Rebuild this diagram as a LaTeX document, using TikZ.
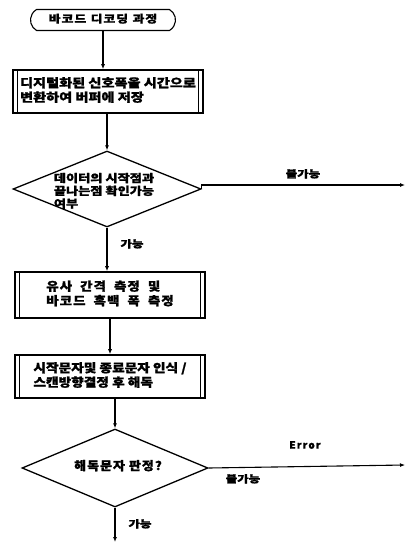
\documentclass[tikz,border=0pt]{standalone}
\usepackage{graphicx}
\usepackage{fontspec}
\setmainfont{Noto Sans CJK KR}[FakeBold=1.3]
\newfontfamily\krls{Noto Sans CJK KR}[LetterSpace=8,FakeBold=1.3]
\usetikzlibrary{shapes.misc,shapes.geometric,arrows.meta}
\newcommand{\widetext}[2][1.25]{\scalebox{#1}[1]{\begin{tabular}{@{}l@{}}#2\end{tabular}}}
\tikzset{
  conn/.style={line width=1.1pt,-{Latex[length=5pt,width=4pt]}},
  procbox/.style={draw,line width=1.6pt,rectangle,minimum width=190pt,inner sep=0pt,
    font=\fontsize{12}{14}\selectfont\bfseries,
    path picture={
      \draw[line width=1pt]([xshift=4.5pt]path picture bounding box.north west)--([xshift=4.5pt]path picture bounding box.south west);
      \draw[line width=1pt]([xshift=-4.5pt]path picture bounding box.north east)--([xshift=-4.5pt]path picture bounding box.south east);}},
  decision/.style={draw,line width=1.3pt,diamond,inner sep=0pt},
  dtext/.style={font=\fontsize{11}{11.5}\selectfont\bfseries,inner sep=0pt},
  lbl/.style={font=\fontsize{10}{11}\selectfont\bfseries,inner sep=0pt},
  term/.style={draw,line width=1.1pt,rounded rectangle,rounded rectangle arc length=120,
    minimum width=145pt,minimum height=21pt,inner sep=0pt,font=\krls\fontsize{10.5}{12}\selectfont\bfseries}
}
\begin{document}
\begin{tikzpicture}[x=1pt,y=-1pt]
\useasboundingbox (0,0) rectangle (407,543);
\node[term] (start) at (103,20) {\widetext[1.22]{바코드\hspace{0.35em}디코딩\hspace{0.35em}과정}};
\node[procbox,minimum height=43pt] (b1) at (108,91.5) {\widetext[1.18]{디지털화된 신호폭을 시간으로\\변환하여 버퍼에 저장}};
\node[decision,minimum width=188pt,minimum height=76pt] (d1) at (107,189) {};
\node[dtext] (d1t) at (104,192) {\widetext[1.2]{데이터의 시작점과\\끝나는점 확인가능\\여부}};
\node[procbox,minimum height=46pt,font=\krls\fontsize{12}{14.5}\selectfont\bfseries] (b2) at (110,295) {\widetext[1.12]{유사\hspace{0.6em}간격\hspace{0.6em}측정\hspace{0.6em}및\\바코드\hspace{0.6em}흑백\hspace{0.6em}폭\hspace{0.6em}측정}};
\node[procbox,minimum height=43pt] (b3) at (110,376.5) {\widetext[1.14]{시작문자및 종료문자 인식 /\\스캔방향결정 후 해독}};
\node[decision,minimum width=186pt,minimum height=78pt] (d2) at (115,468) {};
\node[dtext,font=\krls\fontsize{12}{13}\selectfont\bfseries] (d2t) at (118,467) {\widetext[1.08]{해독문자 판정?}};
\coordinate (e1) at (405,185);
\coordinate (e2) at (405,465);
\coordinate (e3) at (115,542);
\draw[conn] (start.south) -- (start.south |- b1.north);
\draw[conn] (d1.north |- b1.south) -- (d1.north);
\draw[conn] (d1.south) -- (d1.south |- b2.north);
\draw[conn] (b2.south) -- (b2.south |- b3.north);
\draw[conn] (d2.north |- b3.south) -- (d2.north);
\draw[conn] (d1.east) -- (d1.east |- e1) -- (e1);
\draw[conn] (d2.east) -- (e2);
\draw[conn] (d2.south) -- (e3);
\node[lbl] (l1) at (303,175) {\widetext{불가능}};
\node[lbl] (l2) at (132,245) {\widetext{가능}};
\node[lbl,font=\fontsize{10}{11}\selectfont\bfseries\addfontfeature{LetterSpace=12}] (l3) at (305,445) {Error};
\node[lbl] (l4) at (243,480) {\widetext{불가능}};
\node[lbl] (l5) at (140,525) {\widetext{가능}};
\end{tikzpicture}
\end{document}
